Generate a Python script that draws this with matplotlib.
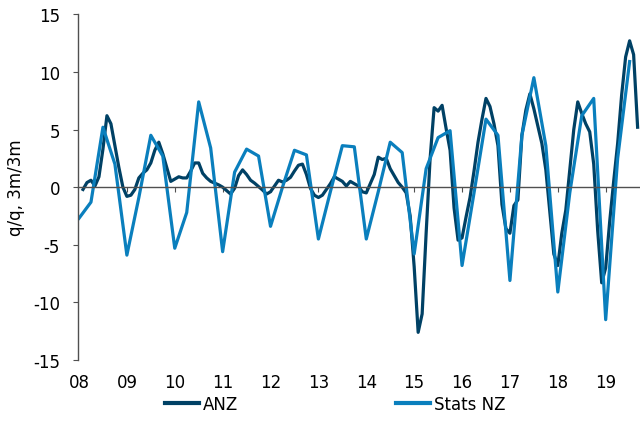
import numpy as np
import matplotlib
matplotlib.use('Agg')
import matplotlib.pyplot as plt

# ANZ monthly, Feb 2008 .. Sep 2019 (3m/3m)
anz = [-0.2, 0.4, 0.6, 0.1, 0.9, 3.3, 6.2, 5.5, 3.6, 1.7, 0.0,
       -0.8, -0.7, -0.2, 0.8, 1.2, 1.5, 2.1, 3.2, 3.9, 2.9, 1.7, 0.5,
       0.7, 0.9, 0.8, 0.8, 1.4, 2.1, 2.1, 1.2, 0.8, 0.5, 0.35, 0.2,
       0.0, -0.3, -0.6, -0.1, 1.0, 1.5, 1.1, 0.6, 0.35, 0.05, -0.25, -0.6,
       -0.4, 0.1, 0.6, 0.45, 0.6, 0.85, 1.4, 1.9, 2.0, 1.1, -0.1, -0.7,
       -0.9, -0.7, -0.2, 0.3, 0.9, 0.7, 0.5, 0.1, 0.5, 0.3, 0.1, -0.4,
       -0.5, 0.3, 1.1, 2.6, 2.4, 2.5, 1.6, 1.0, 0.4, 0.0, -0.5, -2.5,
       -6.9, -12.6, -11.0, -4.0, 2.5, 6.9, 6.6, 7.1, 5.1, 3.2, -1.8, -4.6,
       -4.4, -2.6, -0.9, 1.4, 3.9, 5.9, 7.7, 7.0, 5.5, 3.6, -1.5, -3.6,
       -4.0, -1.6, -1.1, 4.5, 6.7, 8.1, 6.8, 5.3, 3.8, 1.5, -2.2, -5.8,
       -6.8, -4.0, -2.0, 1.5, 5.0, 7.4, 6.4, 5.5, 4.8, 2.0, -3.8, -8.3,
       -7.0, -3.0, 0.5, 3.8, 8.0, 11.3, 12.7, 11.5, 5.2]

# Stats NZ quarterly, from Q1 2008 (q/q)
stats_nz = [-2.7, -1.3, 5.2, 2.0, -5.9, -0.9, 4.5, 2.7,
            -5.3, -2.2, 7.4, 3.4, -5.6, 1.3, 3.3, 2.7,
            -3.4, 0.0, 3.2, 2.8, -4.5, -0.4, 3.6, 3.5,
            -4.5, -0.4, 3.9, 3.0, -5.8, 1.6, 4.3, 4.9,
            -6.8, -0.5, 5.9, 4.5, -8.1, 4.5, 9.5, 3.6,
            -9.1, -0.5, 6.2, 7.7, -11.5, 2.5, 10.9]

year_labels = ['08', '09', '10', '11', '12', '13', '14', '15', '16', '17', '18', '19']

anz_x = np.arange(1, len(anz) + 1)          # months since Jan 2008
stats_x = np.arange(len(stats_nz)) * 3

plt.rcParams['font.family'] = 'DejaVu Sans'
plt.rcParams['font.size'] = 12
plt.rcParams['axes.unicode_minus'] = False

fig = plt.figure(figsize=(6.4, 4.27), dpi=100)
ax = fig.add_axes([78 / 640, 1 - 361 / 427, 562 / 640, (361 - 15.3) / 427])

ax.plot(anz_x, anz, color='#004165', lw=2.3, label='ANZ', solid_joinstyle='round')
ax.plot(stats_x, stats_nz, color='#0A7FBD', lw=2.3, label='Stats NZ', solid_joinstyle='round')

ax.set_xlim(-0.25, 140.6)
ax.set_ylim(-15, 15)
ax.set_yticks(np.arange(-15, 16, 5))

axis_col = '#505050'
for s in ['top', 'right']:
    ax.spines[s].set_visible(False)
ax.spines['left'].set_color(axis_col)
ax.spines['bottom'].set_color(axis_col)
ax.spines['bottom'].set_position(('data', 0))
ax.spines['left'].set_linewidth(1.0)
ax.spines['bottom'].set_linewidth(1.0)

ticks = np.arange(len(year_labels)) * 12
ax.set_xticks(ticks[1:])
ax.tick_params(axis='x', direction='out', length=3.5, color=axis_col, labelbottom=False)
ax.tick_params(axis='y', direction='out', length=3.5, color=axis_col, pad=9.5)

sec = ax.secondary_xaxis('bottom')
sec.set_xticks(ticks, year_labels)
sec.tick_params(length=0, pad=9.5)
sec.spines['bottom'].set_visible(False)

ax.set_ylabel('q/q, 3m/3m')
ax.yaxis.set_label_coords(-0.094, 0.5)

fig.legend(loc='center', bbox_to_anchor=(0.524, 1 - 405 / 427), ncol=2,
           frameon=False, handlelength=2.0, handletextpad=0.25, columnspacing=9.5)
for line in fig.legends[0].get_lines():
    line.set_linewidth(3.0)

fig.savefig('out.png', dpi=100)
